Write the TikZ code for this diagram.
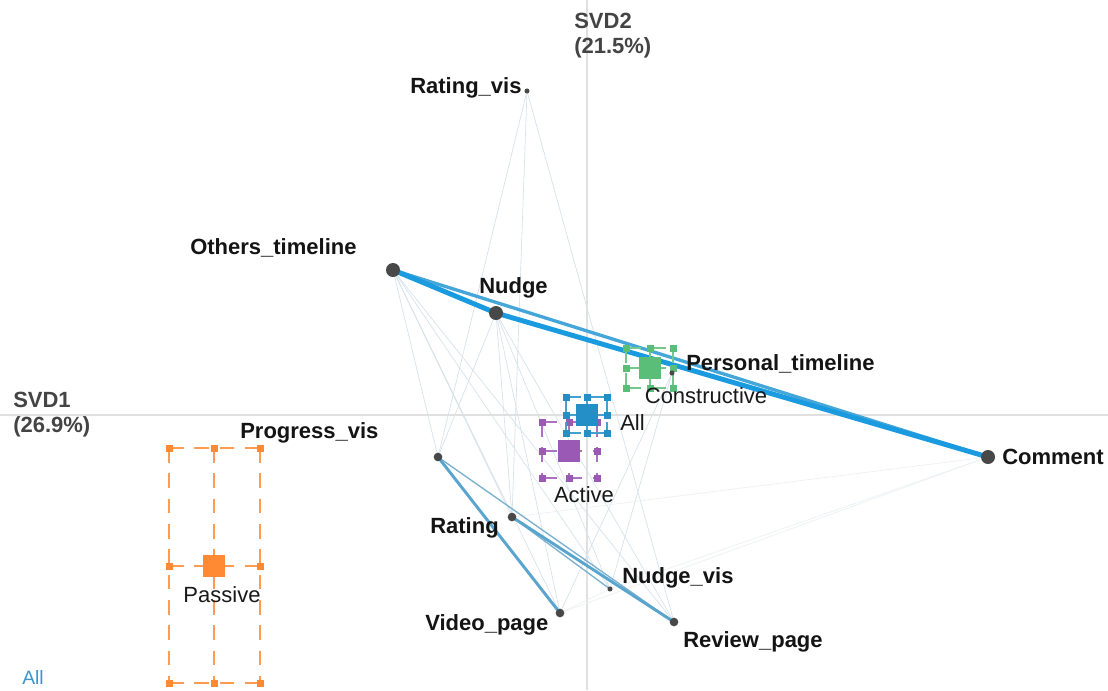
\documentclass[tikz,border=0pt]{standalone}
\usepackage{fontspec}
\setmainfont{Liberation Sans}
\pgfdeclarelayer{bg}
\pgfsetlayers{bg,main}
\definecolor{dotc}{HTML}{484848}
\definecolor{axisc}{HTML}{E0E0E0}
\definecolor{thickblue}{HTML}{1A9BDF}
\definecolor{midblue}{HTML}{45A6DA}
\definecolor{edgeblue}{HTML}{5AA5CD}
\definecolor{thinblue}{HTML}{7AB0CF}
\definecolor{faintc}{HTML}{D6E2EA}
\definecolor{fainterc}{HTML}{EDF1F3}
\definecolor{svdc}{HTML}{444444}
\definecolor{passc}{HTML}{FF8A33}
\definecolor{consc}{HTML}{5ABE79}
\definecolor{allc}{HTML}{248FC6}
\definecolor{actc}{HTML}{9B59B6}
\definecolor{alltxt}{HTML}{3D95CF}
\tikzset{
  ptbig/.style={circle,fill=dotc,inner sep=0pt,minimum size=10.5pt},
  ptmid/.style={circle,fill=dotc,inner sep=0pt,minimum size=6.5pt},
  ptsm/.style={circle,fill=dotc,inner sep=0pt,minimum size=3.8pt},
  lbl/.style={font=\bfseries\fontsize{16.5}{18}\selectfont,text=black!92,inner sep=0pt,anchor=base west},
  svdlbl/.style={font=\bfseries\fontsize{16.5}{18}\selectfont,text=svdc,inner sep=0pt,anchor=base west},
  catlbl/.style={font=\fontsize{16.5}{18}\selectfont,text=black!90,inner sep=0pt,anchor=base},
  catsq/.style={rectangle,fill=#1,inner sep=0pt,minimum size=16.5pt},
  errline/.style={draw=#1!85,line width=1.5pt,dash pattern=on 11pt off 8pt},
  faint/.style={draw=faintc,line width=0.5pt},
  fainter/.style={draw=fainterc,line width=0.5pt},
  thickedge/.style={draw=thickblue,line width=3.7pt},
  midedge/.style={draw=midblue,line width=2.5pt},
  bluedge/.style={draw=edgeblue,line width=2.2pt},
  thinedge/.style={draw=thinblue,line width=1.0pt},
  axisline/.style={draw=axisc,line width=0.8pt}
}
% error box: colour, cx, cy, left, right, top, bottom
\newcommand{\errbx}[7]{%
  \foreach \xx in {#4,#2,#5} {\draw[errline=#1] (\xx,#6) -- (\xx,#7);}
  \foreach \yy in {#6,#3,#7} {\draw[errline=#1] (#4,\yy) -- (#5,\yy);}
  \foreach \xx/\yy in {#4/#6,#2/#6,#5/#6,#4/#3,#5/#3,#4/#7,#2/#7,#5/#7}
    {\fill[#1] ({\xx-3.5},{\yy-3.5}) rectangle ++(7,7);}
}
\begin{document}
\begin{tikzpicture}[x=0.75pt,y=-0.75pt]
\useasboundingbox (0,0) rectangle (1108,690);

% axes
\coordinate (ax1) at (0,415);
\coordinate (ax2) at (1108,415);
\coordinate (ay1) at (587,0);
\coordinate (ay2) at (587,690);

% category error boxes and squares
\errbx{passc}{214}{566}{169}{260}{448}{683}
\node[catsq=passc] (catP) at (214,566) {};
\errbx{consc}{650}{368}{626}{673}{348}{388}
\node[catsq=consc] (catC) at (650,368) {};
\errbx{actc}{569}{451}{542}{597}{422}{478}
\node[catsq=actc] (catA) at (569,451) {};
\errbx{allc}{587}{415}{566}{607}{397}{433}
\node[catsq=allc] (catAll) at (587,415) {};

% points
\node[ptbig] (others) at (393,270) {};
\node[ptbig] (nudge) at (496,313) {};
\node[ptbig] (comment) at (988,457) {};
\node[ptmid] (progress) at (438,457) {};
\node[ptmid] (rating) at (512,517) {};
\node[ptmid] (video) at (560,613) {};
\node[ptmid] (review) at (674,622) {};
\node[ptsm] (nudgevis) at (610,589) {};
\node[ptsm] (ratingvis) at (527,91) {};
\node[ptsm] (personal) at (672,373) {};

\begin{pgfonlayer}{bg}
\fill[white] (0,0) rectangle (1108,690);
\draw[axisline] (ax1) -- (ax2);
\draw[axisline] (ay1) -- (ay2);
% faint edges
\foreach \a/\b in {others/progress,others/rating,others/video,others/nudgevis,others/review,
                   nudge/progress,nudge/rating,nudge/video,nudge/nudgevis,nudge/review,
                   ratingvis/progress,ratingvis/rating,ratingvis/review,
                   personal/video,personal/nudgevis}
  {\draw[faint] (\a.center) -- (\b.center);}
\foreach \a/\b in {comment/rating,comment/video,comment/nudgevis,video/nudgevis}
  {\draw[fainter] (\a.center) -- (\b.center);}
% blue edges
\draw[thinedge] (progress.center) -- (review.center);
\draw[thinedge] (rating.center) -- (nudgevis.center);
\draw[bluedge] (progress.center) -- (video.center);
\draw[bluedge] (rating.center) -- (review.center);
\draw[midedge] (others.center) -- (comment.center);
\draw[thickedge] (others.center) -- (nudge.center);
\draw[thickedge] (nudge.center) -- (comment.center);
\end{pgfonlayer}

% labels
\node[lbl] (l-ratingvis) at (410,93) {Rating\_vis};
\node[lbl] (l-others) at (190,254) {Others\_timeline};
\node[lbl] (l-nudge) at (479,293) {Nudge};
\node[lbl] (l-personal) at (686,370) {Personal\_timeline};
\node[lbl] (l-comment) at (1002,464) {Comment};
\node[lbl] (l-progress) at (240,438) {Progress\_vis};
\node[lbl] (l-rating) at (430,533) {Rating};
\node[lbl] (l-nudgevis) at (622,583) {Nudge\_vis};
\node[lbl] (l-video) at (425,630) {Video\_page};
\node[lbl] (l-review) at (683,647) {Review\_page};

\node[svdlbl] (svd2a) at (574,28) {SVD2};
\node[svdlbl] (svd2b) at (574,53) {(21.5\%)};
\node[svdlbl] (svd1a) at (13,407) {SVD1};
\node[svdlbl] (svd1b) at (13,432) {(26.9\%)};

\node[catlbl] (l-cons) at (706,403) {Constructive};
\node[catlbl,anchor=base west] (l-all) at (620,430) {All};
\node[catlbl] (l-act) at (584,502) {Active};
\node[catlbl] (l-pass) at (222,602) {Passive};

\node[font=\fontsize{14.5}{16}\selectfont,text=alltxt,inner sep=0pt,anchor=base west] (l-allbl) at (22,684) {All};
\end{tikzpicture}
\end{document}
